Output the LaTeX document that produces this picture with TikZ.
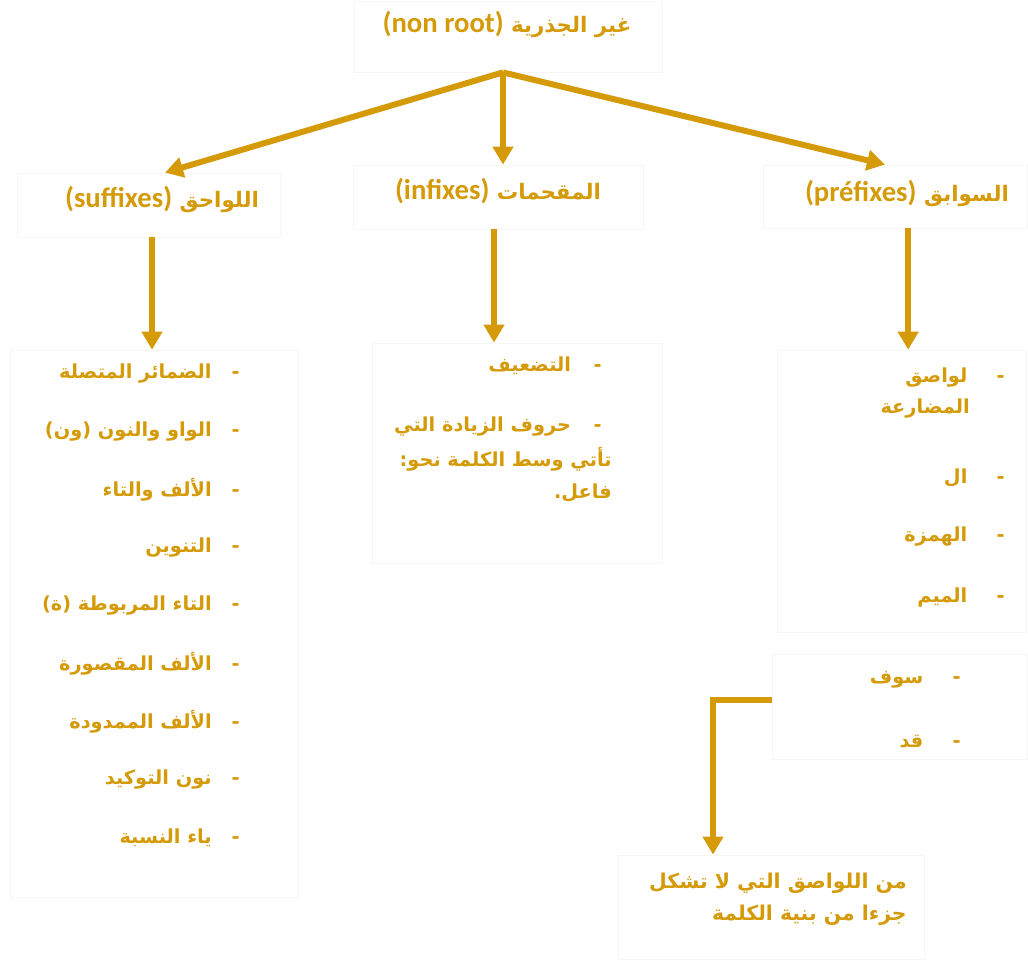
\documentclass[tikz,border=0pt]{standalone}
\usepackage{fontspec}
\usetikzlibrary{arrows.meta,fit}
\TeXXeTstate=1
\newfontfamily\arabicfont[Script=Arabic]{DejaVu Sans}
\newfontfamily\latinfont{Carlito}
\definecolor{gold}{RGB}{212,154,8}
\definecolor{frameline}{RGB}{246,246,246}
% Latin run set inside a right-to-left heading
\newcommand\lat[1]{\beginL{\latinfont\bfseries\fontsize{21.5}{24}\selectfont #1}\endL}
\begin{document}
\begin{tikzpicture}[x=0.75pt,y=-0.75pt,
  frame/.style={draw=frameline, line width=0.6pt, inner sep=0pt},
  head/.style={text=gold, font=\arabicfont\bfseries\fontsize{16}{19}\selectfont, inner sep=0pt},
  entry/.style={text=gold, font=\arabicfont\bfseries\fontsize{14.5}{17}\selectfont, inner sep=0pt, anchor=east},
  notetext/.style={text=gold, font=\arabicfont\bfseries\fontsize{15.3}{18}\selectfont, inner sep=0pt, anchor=east},
  arr/.style={draw=gold, line width=4.5pt, -{Triangle[width=15pt,length=13.5pt]}},
]
\useasboundingbox (0,0) rectangle (1028,960);

% faint frames
\node[frame, fit={(354,1) (662,72)}] (topbox) {};
\node[frame, fit={(17,173) (280,237)}] (sufhead) {};
\node[frame, fit={(353,165) (643,229)}] (infhead) {};
\node[frame, fit={(763,165) (1027,228)}] (prehead) {};
\node[frame, fit={(10,350) (298,897)}] (suflist) {};
\node[frame, fit={(372,343) (662,563)}] (inflist) {};
\node[frame, fit={(777,350) (1026,632)}] (prelist) {};
\node[frame, fit={(772,654) (1027,759)}] (sawbox) {};
\node[frame, fit={(618,855) (924,959)}] (notebox) {};

% headings
\node[head] (title) at (507,24) {\beginR غير الجذرية \lat{(non root)}\endR};
\node[head] (suft) at (162,199) {\beginR اللواحق \lat{(suffixes)}\endR};
\node[head] (inft) at (498,191) {\beginR المقحمات \lat{(infixes)}\endR};
\node[head] (pret) at (907,193) {\beginR السوابق \lat{(préfixes)}\endR};

% suffixes
\node[entry] (s1) at (240,374) {\beginR -\hspace{15pt}الضمائر المتصلة\endR};
\node[entry] (s2) at (240,432) {\beginR -\hspace{15pt}الواو والنون (ون)\endR};
\node[entry] (s3) at (240,490) {\beginR -\hspace{15pt}الألف والتاء\endR};
\node[entry] (s4) at (240,548) {\beginR -\hspace{15pt}التنوين\endR};
\node[entry] (s5) at (240,606) {\beginR -\hspace{15pt}التاء المربوطة (ة)\endR};
\node[entry] (s6) at (240,664) {\beginR -\hspace{15pt}الألف المقصورة\endR};
\node[entry] (s7) at (240,722) {\beginR -\hspace{15pt}الألف الممدودة\endR};
\node[entry] (s8) at (240,780) {\beginR -\hspace{15pt}نون التوكيد\endR};
\node[entry] (s9) at (240,838) {\beginR -\hspace{15pt}ياء النسبة\endR};

% infixes
\node[entry] (i1) at (602,366) {\beginR -\hspace{17pt}التضعيف\endR};
\node[entry] (i2) at (602,427) {\beginR -\hspace{17pt}حروف الزيادة التي\endR};
\node[entry] (i3) at (612,459) {\beginR تأتي وسط الكلمة نحو:\endR};
\node[entry] (i4) at (612,493) {\beginR فاعل.\endR};

% prefixes
\node[entry] (p1) at (1005,378) {\beginR -\hspace{22pt}لواصق\endR};
\node[entry] (p1b) at (970,409) {\beginR المضارعة\endR};
\node[entry] (p2) at (1005,478) {\beginR -\hspace{22pt}ال\endR};
\node[entry] (p3) at (1005,537) {\beginR -\hspace{22pt}الهمزة\endR};
\node[entry] (p4) at (1005,598) {\beginR -\hspace{22pt}الميم\endR};

% particles
\node[entry] (q1) at (961,680) {\beginR -\hspace{22pt}سوف\endR};
\node[entry] (q2) at (961,742) {\beginR -\hspace{22pt}قد\endR};

% note
\node[notetext] (n1) at (907,883) {\beginR من اللواصق التي لا تشكل\endR};
\node[notetext] (n2) at (907,915) {\beginR جزءا من بنية الكلمة\endR};

% connectors
\coordinate (apex) at ([xshift=-3.75pt]topbox.south);
\draw[arr] (apex) -- ([xshift=12.4pt]sufhead.north);
\draw[arr] (apex) -- (apex |- infhead.north);
\draw[arr] (apex) -- ([xshift=-7.5pt]prehead.north);

\coordinate (sa) at ([xshift=-1.5pt]suflist.north);
\draw[arr] (sa |- sufhead.south) -- (sa);
\coordinate (ia) at ([xshift=-3pt]infhead.south);
\draw[arr] (ia) -- (ia |- inflist.north);
\coordinate (pa) at ([xshift=5pt]prelist.north);
\draw[arr] (pa |- prehead.south) -- (pa);

\coordinate (bend) at (713,700);
\draw[arr] (bend -| sawbox.west) -- (bend) -- (bend |- notebox.north);
\end{tikzpicture}
\end{document}
